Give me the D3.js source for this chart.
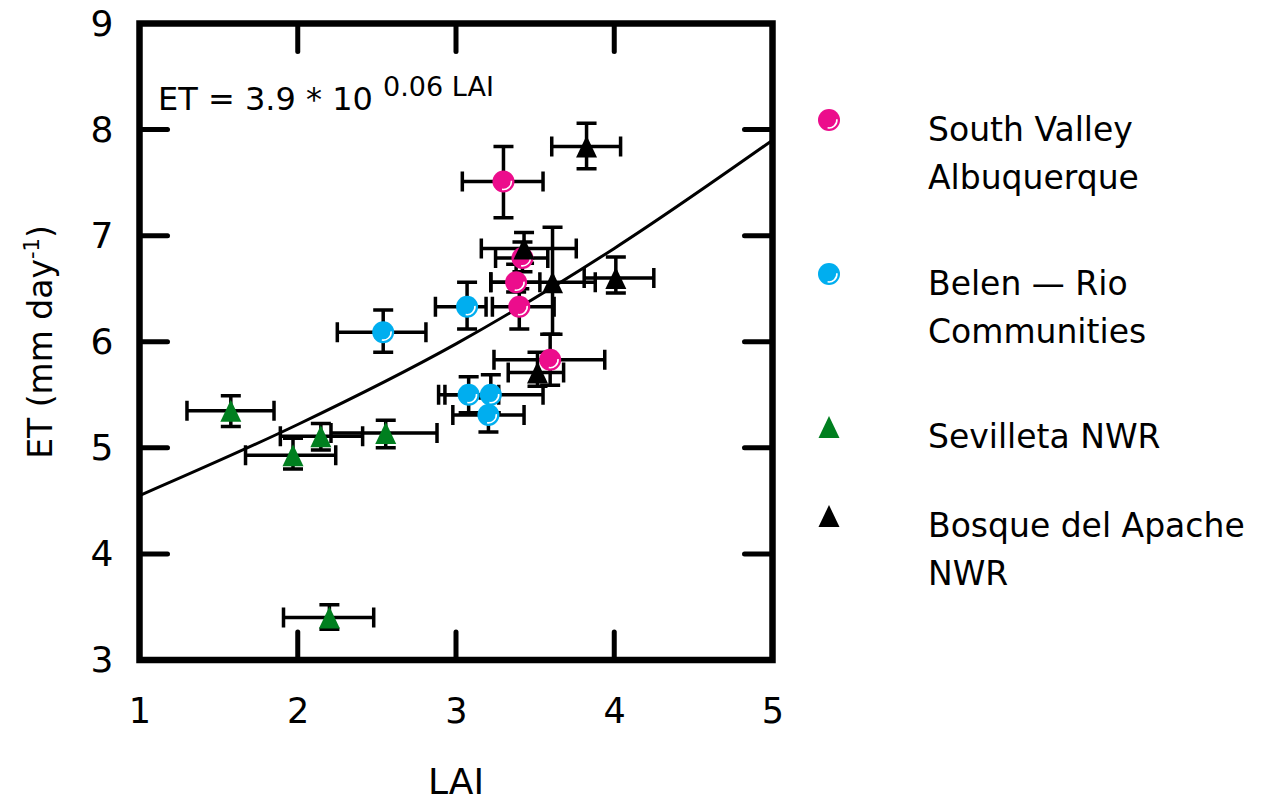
<!DOCTYPE html>
<html>
<head>
<meta charset="utf-8">
<script src="https://cdn.jsdelivr.net/npm/d3@7"></script>
<style>
  body { margin: 0; background: #fff; }
  text { font-family: "Comic Sans MS", "DejaVu Sans", sans-serif; fill: #000; }
</style>
</head>
<body>
<div id="chart-area"></div>
<script>
// axis ticks
const xTicks = [1, 2, 3, 4, 5];
const yTicks = [3, 4, 5, 6, 7, 8, 9];

// South Valley Albuquerque
const svaLAI   = [3.30, 3.42, 3.38, 3.40, 3.595];
const svaET    = [7.51, 6.79, 6.56, 6.33, 5.83];
const svaLAIlo = [3.04, 3.25, 3.22, 3.23, 3.24];
const svaLAIhi = [3.55, 3.58, 3.53, 3.62, 3.94];
const svaETlo  = [7.17, 6.66, 6.47, 6.12, 5.59];
const svaEThi  = [7.84, 6.94, 6.73, 6.50, 6.07];

// Belen - Rio Communities
const belLAI   = [2.54, 3.07, 3.08, 3.22, 3.205];
const belET    = [6.09, 6.33, 5.50, 5.50, 5.31];
const belLAIlo = [2.25, 2.87, 2.89, 2.93, 2.98];
const belLAIhi = [2.81, 3.19, 3.27, 3.55, 3.43];
const belETlo  = [5.90, 6.12, 5.33, 5.33, 5.15];
const belEThi  = [6.30, 6.56, 5.67, 5.69, 5.47];

// Sevilleta NWR
const sevLAI   = [1.577, 2.146, 1.97, 2.556, 2.20];
const sevET    = [5.35, 5.11, 4.93, 5.14, 3.40];
const sevLAIlo = [1.30, 1.89, 1.67, 2.21, 1.91];
const sevLAIhi = [1.85, 2.41, 2.24, 2.88, 2.48];
const sevETlo  = [5.20, 4.98, 4.80, 5.00, 3.29];
const sevEThi  = [5.49, 5.23, 5.09, 5.26, 3.52];

// Bosque del Apache NWR
const bdaLAI   = [3.825, 3.43, 3.61, 4.01, 3.515];
const bdaET    = [7.84, 6.88, 6.56, 6.60, 5.71];
const bdaLAIlo = [3.605, 3.16, 3.22, 3.81, 3.33];
const bdaLAIhi = [4.04, 3.76, 3.88, 4.25, 3.68];
const bdaETlo  = [7.63, 6.74, 6.07, 6.46, 5.58];
const bdaEThi  = [8.06, 7.03, 7.08, 6.80, 5.90];

// fitted curve
const fitLAI = [1, 2, 3, 4, 5];
const fitET  = [4.55, 5.22, 5.98, 6.88, 7.90];

const siteNames  = [["South Valley", "Albuquerque"], ["Belen \u2014 Rio", "Communities"], ["Sevilleta NWR"], ["Bosque del Apache", "NWR"]];
const siteColors = ["#ec0d8c", "#00aeef", "#007f1f", "#000000"];
const siteShapes = ["circle", "circle", "triangle", "triangle"];

const sites = [
  [svaLAI, svaET, svaLAIlo, svaLAIhi, svaETlo, svaEThi],
  [belLAI, belET, belLAIlo, belLAIhi, belETlo, belEThi],
  [sevLAI, sevET, sevLAIlo, sevLAIhi, sevETlo, sevEThi],
  [bdaLAI, bdaET, bdaLAIlo, bdaLAIhi, bdaETlo, bdaEThi]
].map((s, i) => s[0].map((v, j) => ({
  site: i, x: v, y: s[1][j], xlo: s[2][j], xhi: s[3][j], ylo: s[4][j], yhi: s[5][j]
})));
const points = sites.flat();

const width = 1262;
const height = 802;
const plotLeft = 139.5, plotRight = 772.5, plotTop = 23.5, plotBottom = 660;

const svg = d3.select("#chart-area")
  .append("svg")
  .attr("width", width)
  .attr("height", height);

const x = d3.scaleLinear().domain([1, 5]).range([plotLeft, plotRight]);
const y = d3.scaleLinear().domain([3, 9]).range([plotBottom, plotTop]);

// tick labels
svg.append("g")
  .attr("transform", `translate(0,${plotBottom})`)
  .call(d3.axisBottom(x).tickValues(xTicks).tickSize(0).tickPadding(38).tickFormat(d3.format("d")))
  .call(g => g.select(".domain").remove())
  .call(g => g.selectAll("text").attr("font-size", 35).attr("font-family", null));

svg.append("g")
  .attr("transform", `translate(${plotLeft},0)`)
  .call(d3.axisLeft(y).tickValues(yTicks).tickSize(0).tickPadding(26).tickFormat(d3.format("d")))
  .call(g => g.select(".domain").remove())
  .call(g => g.selectAll("text").attr("font-size", 36).attr("font-family", null));

// inward tick marks on all four sides
const tickLen = 28;
const innerX = xTicks.slice(1, -1), innerY = yTicks.slice(1, -1);
const ticks = svg.append("g").attr("stroke", "#000").attr("stroke-width", 5).attr("stroke-linecap", "round");
innerX.forEach(v => {
  ticks.append("line").attr("x1", x(v)).attr("x2", x(v)).attr("y1", plotBottom).attr("y2", plotBottom - tickLen);
  ticks.append("line").attr("x1", x(v)).attr("x2", x(v)).attr("y1", plotTop).attr("y2", plotTop + tickLen);
});
innerY.forEach(v => {
  ticks.append("line").attr("y1", y(v)).attr("y2", y(v)).attr("x1", plotLeft).attr("x2", plotLeft + tickLen);
  ticks.append("line").attr("y1", y(v)).attr("y2", y(v)).attr("x1", plotRight).attr("x2", plotRight - tickLen);
});

// fitted line
const line = d3.line().x(d => x(d[0])).y(d => y(d[1])).curve(d3.curveMonotoneX);
svg.append("path")
  .datum(fitLAI.map((v, i) => [v, fitET[i]]))
  .attr("d", line)
  .attr("fill", "none")
  .attr("stroke", "#000")
  .attr("stroke-width", 3);

// error bars
const cap = 10;
const eb = svg.append("g").attr("stroke", "#000").attr("stroke-width", 3.5).attr("fill", "none");
eb.selectAll(".hbar").data(points).enter().append("path")
  .attr("d", d => `M${x(d.xlo)},${y(d.y)}H${x(d.xhi)}` +
    `M${x(d.xlo)},${y(d.y) - cap}V${y(d.y) + cap}M${x(d.xhi)},${y(d.y) - cap}V${y(d.y) + cap}`);
eb.selectAll(".vbar").data(points).enter().append("path")
  .attr("d", d => `M${x(d.x)},${y(d.ylo)}V${y(d.yhi)}` +
    `M${x(d.x) - cap},${y(d.ylo)}H${x(d.x) + cap}M${x(d.x) - cap},${y(d.yhi)}H${x(d.x) + cap}`);

// markers
const r = 11;
const triPath = "M0,-11L10.5,11L-10.5,11Z";
const hiPath = `M${(0.72 * r * Math.cos(-0.1)).toFixed(2)},${(0.72 * r * Math.sin(-0.1)).toFixed(2)}` +
  `A${0.72 * r},${0.72 * r} 0 0 1 ${(0.72 * r * Math.cos(1.75)).toFixed(2)},${(0.72 * r * Math.sin(1.75)).toFixed(2)}`;

function drawMarker(g, site) {
  if (siteShapes[site] === "circle") {
    g.append("circle").attr("r", r).attr("fill", siteColors[site]);
    g.append("path").attr("d", hiPath).attr("fill", "none").attr("stroke", "#fff").attr("stroke-width", 1.6);
  } else {
    g.append("path").attr("d", triPath).attr("fill", siteColors[site]);
  }
}

svg.append("g").selectAll("g").data(points).enter().append("g")
  .attr("transform", d => `translate(${x(d.x)},${y(d.y)})`)
  .each(function(d) { drawMarker(d3.select(this), d.site); });

// frame
svg.append("rect")
  .attr("x", plotLeft).attr("y", plotTop)
  .attr("width", plotRight - plotLeft).attr("height", plotBottom - plotTop)
  .attr("fill", "none").attr("stroke", "#000").attr("stroke-width", 6.5);

// equation
const eq = svg.append("text").attr("x", 158).attr("y", 110).attr("font-size", 32);
eq.append("tspan").text("ET = 3.9 * 10 ");
eq.append("tspan").attr("dy", -14).attr("font-size", 27).text("0.06 LAI");

// axis titles
svg.append("text")
  .attr("x", x(3)).attr("y", 794)
  .attr("text-anchor", "middle").attr("font-size", 36)
  .text("LAI");

const yt = svg.append("text")
  .attr("transform", "translate(52,342) rotate(-90)")
  .attr("text-anchor", "middle").attr("font-size", 33);
yt.append("tspan").text("ET (mm day");
yt.append("tspan").attr("dy", -13).attr("font-size", 21).text("-1");
yt.append("tspan").attr("dy", 13).text(")");

// legend
const legendX = 829, legendTextX = 928;
const legendY = [120, 274, 427, 516];
siteNames.forEach((lines, i) => {
  const g = svg.append("g").attr("transform", `translate(${legendX},${legendY[i]})`);
  drawMarker(g, i);
  lines.forEach((t, k) => {
    svg.append("text")
      .attr("x", legendTextX).attr("y", legendY[i] + 21 + k * 48)
      .attr("font-size", 33)
      .text(t);
  });
});
</script>
</body>
</html>
